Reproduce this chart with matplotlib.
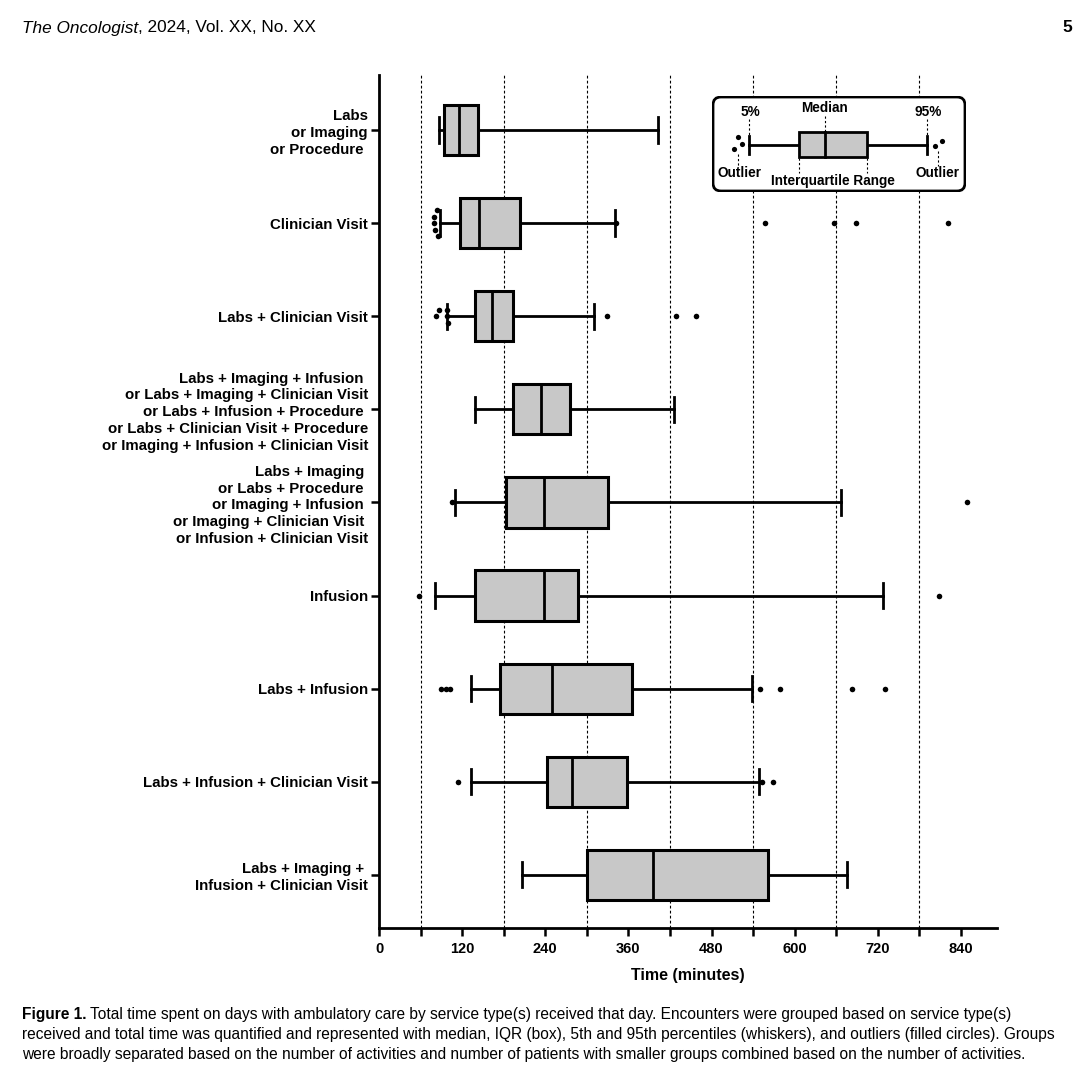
import matplotlib
matplotlib.use("Agg")
import numpy as np
import matplotlib.pyplot as plt
from matplotlib.patches import FancyBboxPatch

# ─── данные (минуты) ──────────────────────────────────────────────────────────

groups = [
    "Labs\nor Imaging\nor Procedure ",
    "Clinician Visit",
    "Labs + Clinician Visit",
    "Labs + Imaging + Infusion \nor Labs + Imaging + Clinician Visit\n"
    "or Labs + Infusion + Procedure \nor Labs + Clinician Visit + Procedure\n"
    "or Imaging + Infusion + Clinician Visit",
    "Labs + Imaging \nor Labs + Procedure \nor Imaging + Infusion \n"
    "or Imaging + Clinician Visit \nor Infusion + Clinician Visit",
    "Infusion",
    "Labs + Infusion",
    "Labs + Infusion + Clinician Visit",
    "Labs + Imaging + \nInfusion + Clinician Visit",
]

p05    = [87, 88, 98, 138, 109, 81, 133, 133, 206]
q1     = [94, 117, 139, 194, 183, 139, 175, 242, 300]
median = [116, 145, 163, 234, 238, 238, 250, 278, 396]
q3     = [143, 204, 193, 276, 331, 287, 365, 358, 561]
p95    = [402, 341, 311, 426, 667, 728, 538, 548, 675]

outliers = [
    [],
    [80, 80, 81, 84, 85, 342, 557, 657, 689, 821],
    [82, 86, 98, 98, 99, 329, 428, 458],
    [],
    [106, 848],
    [58, 808],
    [89, 97, 103, 550, 579, 683, 730],
    [114, 553, 569],
    [],
]

x_ticks = [0, 120, 240, 360, 480, 600, 720, 840]
grid_x = [60, 180, 300, 420, 540, 660, 780]

BOX_FILL = "#c8c8c8"
BOLD = ["Liberation Sans", "DejaVu Sans"]
NARROW = ["Liberation Sans Narrow", "Liberation Sans", "DejaVu Sans"]


def dodge(values, tol=5.0, step=0.07):
    """близкие выбросы раскладываем по вертикали, как в Prism"""
    vals = sorted(values)
    offs = []
    cluster = []
    pattern = [0, -1, 1, -2, 2, -3, 3]
    for v in vals:
        if cluster and v - cluster[0] > tol:
            cluster = []
        offs.append(pattern[len(cluster) % len(pattern)] * step)
        cluster.append(v)
    return vals, offs


# ─── фигура ───────────────────────────────────────────────────────────────────

fig = plt.figure(figsize=(10.82, 10.77), dpi=100)
ax = fig.add_axes([379 / 1082, 1 - 928 / 1077, 618 / 1082, 853 / 1077])

pos = np.arange(1, len(groups) + 1)
stats = [
    dict(whislo=a, q1=b, med=c, q3=d, whishi=e, fliers=[], label=g)
    for a, b, c, d, e, g in zip(p05, q1, median, q3, p95, groups)
]

line_kw = dict(color="black", linewidth=2)
ax.bxp(
    stats, positions=pos, orientation="horizontal", widths=0.54,
    patch_artist=True, showfliers=False,
    boxprops=dict(facecolor=BOX_FILL, edgecolor="black", linewidth=2.2),
    medianprops=line_kw, whiskerprops=line_kw, capprops=line_kw,
    capwidths=0.27,
)

for y, vals in zip(pos, outliers):
    if not vals:
        continue
    xs, dy = dodge(vals)
    ax.scatter(xs, y + np.array(dy), s=16, color="black", zorder=4,
               linewidths=0)

for gx in grid_x:
    ax.axvline(gx, color="black", linewidth=0.8, linestyle=(0, (2.5, 2)),
               zorder=0)

ax.set_xlim(0, 892)
ax.set_ylim(len(groups) + 0.57, 0.41)
ax.set_xticks(x_ticks)
ax.set_xticks(grid_x, minor=True)
ax.set_yticks(pos)
ax.set_yticklabels(groups, fontsize=10.8, fontweight="bold", family=BOLD,
                   linespacing=1.25, ha="right")
for lbl in ax.get_xticklabels():
    lbl.set_fontweight("bold")
    lbl.set_family(BOLD)
    lbl.set_fontsize(10.5)
ax.set_xlabel("Time (minutes)", fontsize=11.5, fontweight="bold",
              family=BOLD, labelpad=9)

for side in ("top", "right"):
    ax.spines[side].set_visible(False)
for side in ("left", "bottom"):
    ax.spines[side].set_linewidth(2)
ax.tick_params(which="both", width=1.8, length=6, color="black")
ax.tick_params(axis="x", pad=4)
ax.tick_params(axis="y", pad=2)

# ─── вставка-легенда ──────────────────────────────────────────────────────────

ins = ax.inset_axes([333 / 618, 1 - 117 / 853, 254 / 618, 96 / 853])
ins.set_xlim(0, 254)
ins.set_ylim(96, 0)
ins.axis("off")
ins.add_patch(FancyBboxPatch((9, 9), 236, 78, boxstyle="round,pad=8",
                             facecolor="white", edgecolor="black",
                             linewidth=2, zorder=1))
cy = 49
ins.plot([37, 87], [cy, cy], **line_kw, zorder=3)
ins.plot([155, 215], [cy, cy], **line_kw, zorder=3)
for cx in (37, 215):
    ins.plot([cx, cx], [cy - 9, cy + 9], **line_kw, zorder=3)
ins.add_patch(plt.Rectangle((87, 36), 68, 25, facecolor=BOX_FILL,
                            edgecolor="black", linewidth=2, zorder=3))
ins.plot([113, 113], [36, 61], **line_kw, zorder=4)
ins.scatter([26, 30, 22, 223, 230], [41, 48, 53, 50, 45], s=14,
            color="black", linewidths=0, zorder=4)

dash = dict(color="black", linewidth=0.8, linestyle=(0, (2, 2)), zorder=2)
ins.plot([37, 37], [23, 39], **dash)
ins.plot([113, 113], [20, 36], **dash)
ins.plot([215, 215], [23, 39], **dash)
ins.plot([26, 26], [58, 70], **dash)
ins.plot([226, 226], [55, 70], **dash)
ins.plot([87, 87], [62, 77], **dash)
ins.plot([155, 155], [62, 77], **dash)

txt = dict(fontsize=9.8, fontweight="bold", family=BOLD, ha="center",
           va="center", zorder=5)
ins.text(38, 16, "5%", **txt)
ins.text(113, 12, "Median", **txt)
ins.text(216, 16, "95%", **txt)
ins.text(27, 77, "Outlier", **txt)
ins.text(226, 77, "Outlier", **txt)
ins.text(121, 85, "Interquartile Range", **txt)

# ─── шапка и подпись ──────────────────────────────────────────────────────────

h1 = fig.text(22 / 1082, 1 - 28 / 1077, "The Oncologist", fontsize=12.4,
              style="italic", family=NARROW, va="center")
ax.annotate(", 2024, Vol. XX, No. XX", xy=(1, 0.5), xycoords=h1,
            fontsize=12.4, family=NARROW, va="center", ha="left",
            annotation_clip=False)
fig.text(1072 / 1082, 1 - 28 / 1077, "5", fontsize=12.4, fontweight="bold",
         family=NARROW, va="center", ha="right")

cap_lines = [
    "Total time spent on days with ambulatory care by service type(s) received "
    "that day. Encounters were grouped based on service type(s)",
    "received and total time was quantified and represented with median, IQR "
    "(box), 5th and 95th percentiles (whiskers), and outliers (filled circles). "
    "Groups",
    "were broadly separated based on the number of activities and number of "
    "patients with smaller groups combined based on the number of activities.",
]
CAP_FS = 11.2
c1 = fig.text(22 / 1082, 1 - 1014 / 1077, "Figure 1.", fontsize=CAP_FS,
              fontweight="bold", family=NARROW, va="center")
ax.annotate(" " + cap_lines[0], xy=(1, 0.5), xycoords=c1, fontsize=CAP_FS,
            family=NARROW, va="center", ha="left", annotation_clip=False)
fig.text(22 / 1082, 1 - 1035 / 1077, cap_lines[1], fontsize=CAP_FS,
         family=NARROW, va="center")
fig.text(22 / 1082, 1 - 1055 / 1077, cap_lines[2], fontsize=CAP_FS,
         family=NARROW, va="center")

fig.savefig("out.png", dpi=100, facecolor="white")
